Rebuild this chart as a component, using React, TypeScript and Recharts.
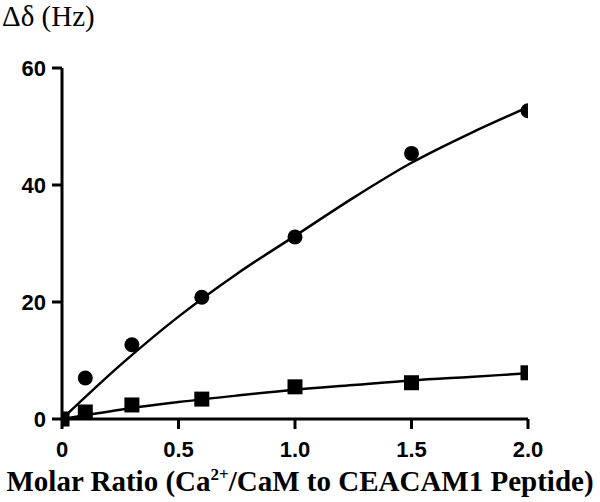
import React from "react"
import {
  ComposedChart,
  XAxis,
  YAxis,
  Scatter,
  Line,
} from "recharts"

// measured points
const ratios = [0, 0.1, 0.3, 0.6, 1.0, 1.5, 2.0]
const circleShift = [0, 7.0, 12.7, 20.8, 31.1, 45.4, 52.7]
const squareShift = [0, 1.2, 2.4, 3.4, 5.5, 6.2, 7.9]

// fitted curves
const fitRatios = [0, 0.25, 0.5, 0.75, 1.0, 1.25, 1.5, 1.75, 2.0]
const circleFit = [0, 9.2, 17.5, 24.8, 31.3, 37.8, 43.8, 48.8, 53.3]
const squareFit = [0, 1.6, 2.9, 4.0, 5.0, 5.8, 6.6, 7.2, 7.8]

const xTicks = [0, 0.5, 1.0, 1.5, 2.0]
const yTicks = [0, 20, 40, 60]

const circleData = ratios.map((x, i) => ({ x, y: circleShift[i] }))
const squareData = ratios.map((x, i) => ({ x, y: squareShift[i] }))
const circleFitData = fitRatios.map((x, i) => ({ x, y: circleFit[i] }))
const squareFitData = fitRatios.map((x, i) => ({ x, y: squareFit[i] }))

const tickStyle = {
  fill: "#000",
  fontFamily: "Liberation Sans, Arial, sans-serif",
  fontWeight: 700,
  fontSize: 22,
}

const XTick = (props: any) => {
  const v = props.payload.value
  return (
    <text x={props.x} y={props.y + 26} textAnchor="middle" {...tickStyle}>
      {v === 0 ? "0" : v.toFixed(1)}
    </text>
  )
}

const Dot = (props: any) => (
  <circle cx={props.cx} cy={props.cy} r={7.5} fill="#000" />
)

const Box = (props: any) => (
  <rect x={props.cx - 7.5} y={props.cy - 7.5} width={15} height={15} fill="#000" />
)

export default function App() {
  return (
    <div style={{ position: "absolute", left: 0, top: 0, width: 600, height: 502, background: "#fff" }}>
      <div
        style={{
          position: "absolute",
          left: 2,
          top: -1,
          lineHeight: "34px",
          fontFamily: "Liberation Serif, Times New Roman, serif",
          fontSize: 29,
          color: "#000",
        }}
      >
        Δδ (Hz)
      </div>
      <ComposedChart
        width={600}
        height={502}
        margin={{ top: 68, right: 72, bottom: 43, left: 12 }}
      >
        <XAxis
          dataKey="x"
          type="number"
          domain={[0, 2]}
          ticks={xTicks}
          stroke="#000"
          strokeWidth={3}
          tickSize={10}
          tick={XTick}
          height={40}
          allowDataOverflow
        />
        <YAxis
          dataKey="y"
          type="number"
          domain={[0, 60]}
          ticks={yTicks}
          stroke="#000"
          strokeWidth={3}
          tickSize={10}
          tick={tickStyle}
          tickMargin={6}
          width={50}
        />
        <Line
          data={circleFitData}
          dataKey="y"
          type="monotone"
          stroke="#000"
          strokeWidth={2.5}
          dot={false}
          isAnimationActive={false}
        />
        <Line
          data={squareFitData}
          dataKey="y"
          type="monotone"
          stroke="#000"
          strokeWidth={2.5}
          dot={false}
          isAnimationActive={false}
        />
        <Scatter data={circleData} dataKey="y" shape={Dot} isAnimationActive={false} />
        <Scatter data={squareData} dataKey="y" shape={Box} isAnimationActive={false} />
      </ComposedChart>
      <div
        style={{
          position: "absolute",
          left: 0,
          width: 600,
          top: 465,
          lineHeight: "32px",
          textAlign: "center",
          fontFamily: "Liberation Serif, Times New Roman, serif",
          fontWeight: 700,
          fontSize: 29,
          color: "#000",
          whiteSpace: "nowrap",
        }}
      >
        Molar Ratio (Ca<sup style={{ fontSize: 17, lineHeight: 0 }}>2+</sup>/CaM to CEACAM1 Peptide)
      </div>
    </div>
  )
}
